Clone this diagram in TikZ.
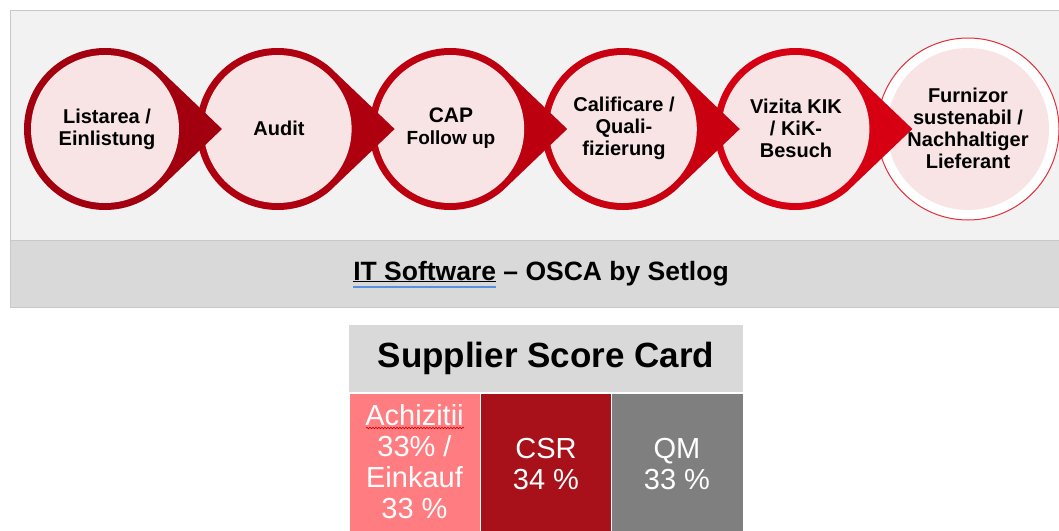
\documentclass[tikz,border=0pt]{standalone}
\usepackage{fontspec}
\setmainfont{Liberation Sans}
\usetikzlibrary{decorations.pathmorphing}
\definecolor{panel}{HTML}{F2F2F2}
\definecolor{panelline}{HTML}{C8C8C8}
\definecolor{band}{HTML}{D9D9D9}
\definecolor{pinkfill}{HTML}{F8E4E5}
\definecolor{ca}{HTML}{A2000F}
\definecolor{cb}{HTML}{AE000F}
\definecolor{cc}{HTML}{BC0010}
\definecolor{cd}{HTML}{C80010}
\definecolor{ce}{HTML}{D60012}
\definecolor{cf}{HTML}{E0303A}
\definecolor{acq}{HTML}{FF7C80}
\definecolor{csr}{HTML}{A8111A}
\definecolor{qm}{HTML}{7F7F7F}
\definecolor{hdr}{HTML}{D9D9D9}
\definecolor{spellblue}{HTML}{5B8FE0}
\begin{document}
\begin{tikzpicture}[x=1pt,y=-1pt,
  lbl/.style={align=center,font=\fontsize{20}{22}\selectfont\bfseries,inner sep=0pt},
  cell/.style={align=center,text=white,font=\fontsize{29}{31}\selectfont,inner sep=0pt}]
\useasboundingbox (0,0) rectangle (1059,530);
\fill[white] (0,0) rectangle (1059,530);
% panel
\draw[panelline,fill=panel] (10,10) rectangle (1075,240);
\draw[panelline,fill=band] (10,240) rectangle (1075,307);
% final circle
\draw[cf,line width=1pt,fill=white] (968,129) circle[radius=91];
\fill[pinkfill] (968,129) circle[radius=81];
% teardrop circles, drawn right to left
\foreach \i/\c in {4/ce,3/cd,2/cc,1/cb,0/ca}{
  \pgfmathsetmacro{\cx}{105+172.6*\i}
  \fill[\c] (\cx,129) ++(50:81) arc[start angle=50,end angle=310,radius=81] -- (\cx+117,129) -- cycle;
  \fill[pinkfill] (\cx,129) circle[radius=74];
}
% labels
\node[lbl] (n1) at (107,129) {Listarea /\\Einlistung};
\node[lbl] (n2) at (279,128) {Audit};
\node[lbl] (n3) at (451,128) {\fontsize{21}{22}\selectfont CAP\\\fontsize{19}{20}\selectfont Follow up};
\node[lbl] (n4) at (624,128) {Calificare /\\Quali-\\fizierung};
\node[lbl] (n5) at (796,128) {Vizita KIK\\/ KiK-\\Besuch};
\node[lbl] (n6) at (968,128) {Furnizor\\sustenabil /\\Nachhaltiger\\Lieferant};
% band text
\node[anchor=base,inner sep=0pt,font=\fontsize{26.5}{28}\selectfont\bfseries] (band) at (541,280) {\underline{IT Software} – OSCA by Setlog};
\draw[spellblue,line width=1.2pt] ([yshift=-7pt]band.base west) -- ++(143,0);
% score card
\fill[hdr] (349,325) rectangle (743,392);
\node[font=\fontsize{35}{38}\selectfont\bfseries,inner sep=0pt] (sc) at (546,358) {Supplier Score Card};
\draw[white,line width=1pt,fill=acq] (349,393) rectangle (480.5,535);
\draw[white,line width=1pt,fill=csr] (480.5,393) rectangle (611.5,535);
\draw[white,line width=1pt,fill=qm] (611.5,393) rectangle (743,535);
\node[cell] (acqt) at (414.5,462) {Achizitii\\33\% /\\Einkauf\\33 \%};
\node[cell] (csrt) at (546,464) {CSR\\34 \%};
\node[cell] (qmt) at (677,464) {QM\\33 \%};
\draw[red!80!black,line width=0.6pt,decorate,decoration={snake,amplitude=0.8pt,segment length=3pt}] (366,428) -- (464,428);
\end{tikzpicture}
\end{document}
